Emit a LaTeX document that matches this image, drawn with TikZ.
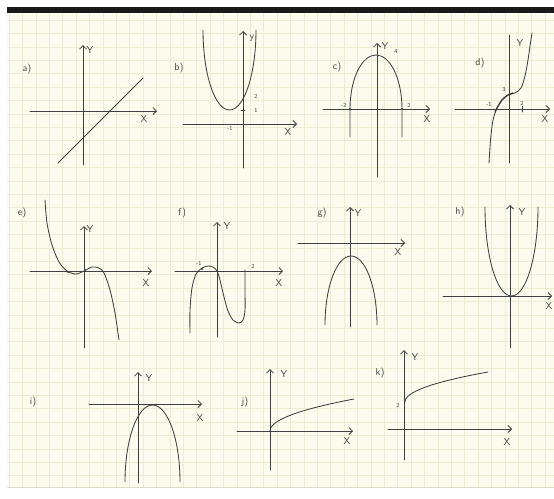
\documentclass[tikz,border=0pt]{standalone}
\usetikzlibrary{arrows.meta}
\definecolor{inkc}{HTML}{404040}
\definecolor{paper}{HTML}{FBFBEE}
\definecolor{gridc}{HTML}{ECECD4}
\begin{document}
\begin{tikzpicture}[x=1pt,y=-1pt,
  ink/.style={draw=inkc, line width=0.85pt, line cap=round, line join=round},
  axis/.style={ink, -{Straight Barb[length=3.5pt,width=7pt]}},
  lbl/.style={text=inkc, font=\sffamily\fontsize{10}{10}\selectfont, inner sep=0pt},
  num/.style={text=inkc, font=\sffamily\fontsize{6}{6}\selectfont, inner sep=0pt},
  dotm/.style={fill=inkc, draw=none, circle, inner sep=0pt, minimum size=2.2pt}]
\useasboundingbox (0,0) rectangle (554,498);
% paper
\fill[white] (0,0) rectangle (554,498);
\fill[paper] (7,13) rectangle (554,487);
\begin{scope}
  \clip (7,13) rectangle (554,487);
  \foreach \i in {0,...,41} \draw[gridc, line width=0.5pt] ({9+13.4*\i},13) -- ({9+13.4*\i},487);
  \foreach \j in {0,...,35} \draw[gridc, line width=0.5pt] (7,{20+13.4*\j}) -- (554,{20+13.4*\j});
\end{scope}
\draw[gridc!85!gray, line width=0.6pt] (7,487) -- (554,487);
\fill[black!90] (7,7) rectangle (554,13);

% ---------- a)
\node[lbl] (la) at (27,69) {a)};
\draw[axis] (83,165) -- (83,45);
\draw[axis] (30,111) -- (157,111);
\node[lbl] (ay) at (90,50) {Y};
\node[lbl] (ax) at (144,119) {X};
\draw[ink] (58,163) -- (143,78);

% ---------- b)
\node[lbl] (lb) at (179,68) {b)};
\draw[axis] (243,168) -- (243,31);
\draw[axis] (183,124) -- (297,124);
\node[lbl] (by) at (252,38) {y};
\node[lbl] (bx) at (288,132) {X};
\node[num] (b2) at (256,96) {2};
\node[num] (b1) at (256,110) {1};
\node[num] (bm1) at (230,128) {-1};
\draw[ink] (241,110) -- (245,110);
\draw[ink] (203,30) arc[start angle=180,end angle=360,x radius=26.5pt,y radius=80pt];

% ---------- c)
\node[lbl] (lc) at (337,67) {c)};
\draw[axis] (377,177) -- (377,43);
\draw[axis] (323,109) -- (430,109);
\node[lbl] (cy) at (385,46) {Y};
\node[num] (c4) at (396,52) {4};
\node[num] (cm2) at (344,105) {-2};
\node[num] (c2) at (409,105) {2};
\node[lbl] (cx) at (427,119) {X};
\draw[ink] (350,137) -- (350,109) arc[start angle=180,end angle=0,x radius=26pt,y radius=54pt] -- (402,137);
\node[dotm] (cd1) at (350,109) {};
\node[dotm] (cd2) at (402,109) {};

% ---------- d)
\node[lbl] (ld) at (480,63) {d)};
\draw[ink] (509,163) -- (509,35);
\draw[axis] (455,109) -- (550,109);
\node[lbl] (dy) at (520,43) {Y};
\node[lbl] (dx) at (545,119) {X};
\node[num] (dm1) at (489,104) {-1};
\node[num] (d3) at (504,90) {3};
\node[num] (d2) at (522,103) {2};
\draw[ink] (522,106) -- (522,112);
\draw[ink] plot[smooth] coordinates {(489,163) (490,147) (491,135) (493,120) (497,108) (502,100) (508,95) (515,93) (521,88) (525,76) (528,60) (530,46) (532,33)};
\draw[ink, line width=1.3pt] plot[smooth] coordinates {(495,112) (497,108) (502,100) (508,95) (513,93)};

% ---------- e)
\node[lbl] (le) at (22,213) {e)};
\draw[axis] (84,348) -- (84,226);
\draw[axis] (30,271) -- (152,271);
\node[lbl] (ey) at (90,229) {Y};
\node[lbl] (ex) at (146,283) {X};
\draw[ink] plot[smooth] coordinates {(45,200) (47,223) (52,245) (59,262) (67,271) (76,274) (84,271) (92,267) (99,268) (104,273) (110,290) (115,313) (119,340)};
\node[dotm] (ed1) at (68,272) {};
\node[dotm] (ed2) at (85,270) {};

% ---------- f)
\node[lbl] (lf) at (182,213) {f)};
\draw[axis] (217,337) -- (217,222);
\draw[axis] (175,271) -- (283,271);
\node[lbl] (fy) at (227,226) {Y};
\node[lbl] (fx) at (279,283) {X};
\node[num] (fm1) at (199,263) {-1};
\node[num] (f2) at (253,266) {2};
\draw[ink] plot[smooth] coordinates {(190,333) (190,310) (192,288) (196,274) (202,268) (208,266) (213,267) (217,271) (220,280) (224,297) (228,311) (233,320) (239,323) (243,320) (245,310) (245,290) (245,270)};
\node[dotm] (fd1) at (202,269) {};

% ---------- g)
\node[lbl] (lg) at (322,213) {g)};
\draw[axis] (350,327) -- (350,207);
\draw[axis] (298,243) -- (405,243);
\node[lbl] (gy) at (358,213) {Y};
\node[lbl] (gx) at (398,252) {X};
\draw[ink] (325,325) arc[start angle=180,end angle=0,x radius=26pt,y radius=69pt];

% ---------- h)
\node[lbl] (lh) at (460,212) {h)};
\draw[axis] (510,348) -- (510,205);
\draw[axis] (443,296) -- (552,296);
\node[lbl] (hy) at (522,212) {Y};
\node[lbl] (hx) at (549,306) {X};
\draw[ink] (485,207) arc[start angle=180,end angle=360,x radius=26.5pt,y radius=89pt];

% ---------- i)
\node[lbl] (li) at (33,402) {i)};
\draw[axis] (138,483) -- (138,372);
\draw[axis] (89,404) -- (202,404);
\node[lbl] (iy) at (149,378) {Y};
\node[lbl] (ix) at (200,418) {X};
\draw[ink] (125,482) arc[start angle=180,end angle=0,x radius=27.5pt,y radius=77pt];

% ---------- j)
\node[lbl] (lj) at (245,402) {j)};
\draw[axis] (270,470) -- (270,369);
\draw[axis] (237,431) -- (353,431);
\node[lbl] (jy) at (284,374) {Y};
\node[lbl] (jx) at (347,441) {X};
\draw[ink] plot[domain=0:1, samples=40, smooth] ({270+84*\x*\x},{431-32*\x});

% ---------- k)
\node[lbl] (lk) at (380,373) {k)};
\draw[axis] (404,460) -- (404,350);
\draw[axis] (388,429) -- (512,429);
\node[lbl] (ky) at (415,357) {Y};
\node[lbl] (kx) at (507,442) {X};
\node[num] (k2) at (398,405) {2};
\draw[ink] plot[domain=0:1, samples=40, smooth] ({405+83*\x*\x},{402-30*\x});
\end{tikzpicture}
\end{document}
